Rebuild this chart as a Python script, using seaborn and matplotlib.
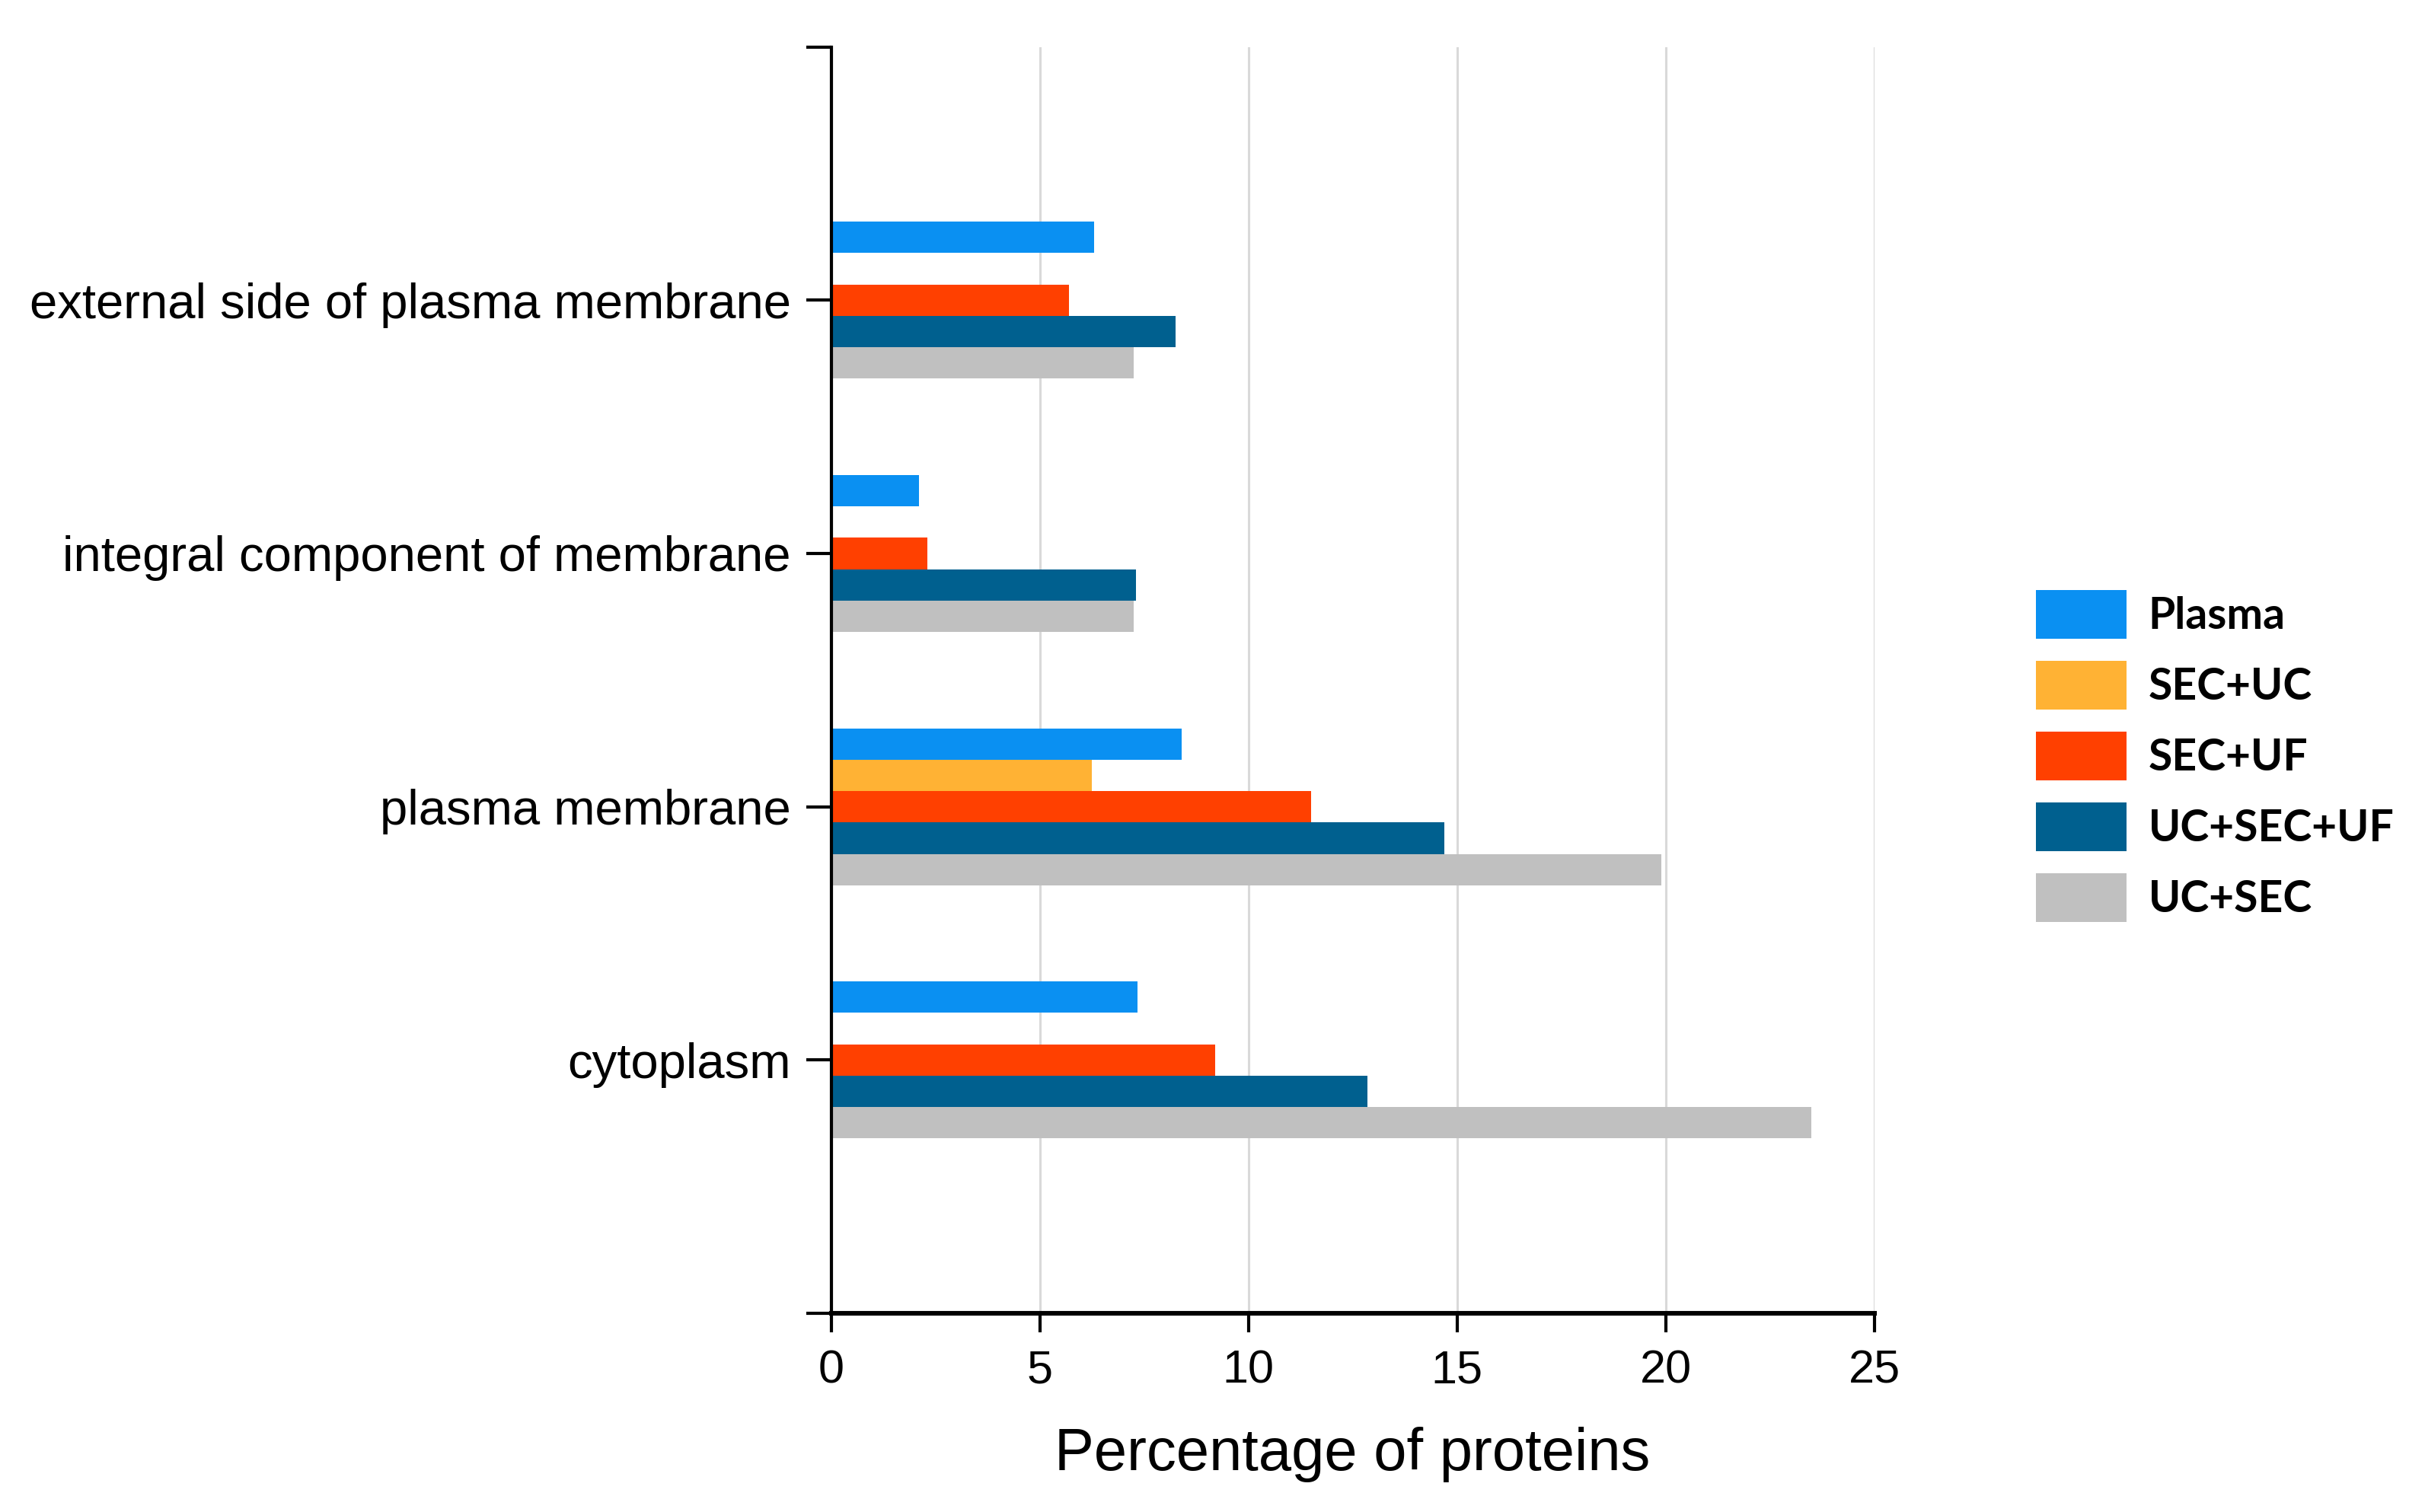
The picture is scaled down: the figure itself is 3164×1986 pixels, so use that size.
import numpy as np
import pandas as pd
import seaborn as sns
import matplotlib.pyplot as plt

# Data
categories = ['external side of plasma membrane', 'integral component of membrane',
              'plasma membrane', 'cytoplasm']
methods = ['Plasma', 'SEC+UC', 'SEC+UF', 'UC+SEC+UF', 'UC+SEC']
plasma = [6.3, 2.1, 8.4, 7.35]
sec_uc = [np.nan, np.nan, 6.25, np.nan]
sec_uf = [5.7, 2.3, 11.5, 9.2]
uc_sec_uf = [8.25, 7.3, 14.7, 12.85]
uc_sec = [7.25, 7.25, 19.9, 23.5]
colors = ['#0A90F2', '#FFB234', '#FF4000', '#00608F', '#C0C0C0']

df = pd.DataFrame({'Plasma': plasma, 'SEC+UC': sec_uc, 'SEC+UF': sec_uf,
                   'UC+SEC+UF': uc_sec_uf, 'UC+SEC': uc_sec}, index=categories)
long = df.reset_index().melt(id_vars='index', var_name='method', value_name='pct')
long = long.rename(columns={'index': 'category'}).dropna()

sns.set_style('white')
plt.rcParams['font.family'] = ['Liberation Sans', 'DejaVu Sans']
plt.rcParams['text.color'] = 'black'
plt.rcParams['axes.labelcolor'] = 'black'
plt.rcParams['xtick.color'] = 'black'
plt.rcParams['ytick.color'] = 'black'

fig, ax = plt.subplots(figsize=(15.82, 9.93), dpi=200)
fig.subplots_adjust(left=0.345, right=0.778, top=0.969, bottom=0.1314)

sns.barplot(data=long, x='pct', y='category', hue='method', order=categories,
            hue_order=methods, palette=colors, saturation=1, width=0.62,
            errorbar=None, linewidth=0, orient='h', ax=ax, legend=True)

ax.set_xlim(0, 25)
ax.set_ylim(4, -1)
ax.set_xticks([0, 5, 10, 15, 20, 25])
ax.set_yticks([-1, 0, 1, 2, 3, 4])
ax.set_yticklabels([''] + categories + [''])
ax.set_ylabel('')
ax.set_xlabel('Percentage of proteins', fontsize=28, labelpad=16)
ax.xaxis.grid(True, color='#D9D9D9', linewidth=1.1)
ax.set_axisbelow(True)

for s in ['top', 'right']:
    ax.spines[s].set_visible(False)
ax.spines['left'].set_linewidth(1.5)
ax.spines['bottom'].set_linewidth(2.2)
ax.spines['left'].set_color('black')
ax.spines['bottom'].set_color('black')
ax.tick_params(axis='y', left=True, length=12, width=1.5, pad=7, labelsize=23.5)
ax.tick_params(axis='x', bottom=True, length=9, width=1.5, pad=8, labelsize=22)

handles, labels = ax.get_legend_handles_labels()
ax.get_legend().remove()
fig.legend(handles, labels, loc='center left', bbox_to_anchor=(0.845, 0.5),
           frameon=False, borderpad=0, borderaxespad=0, handlelength=2.1,
           handleheight=1.35, handletextpad=0.5, labelspacing=0.51,
           prop={'family': 'Lato', 'weight': 'bold', 'size': 20.5})

fig.savefig('out.png', dpi=200, facecolor='white')
